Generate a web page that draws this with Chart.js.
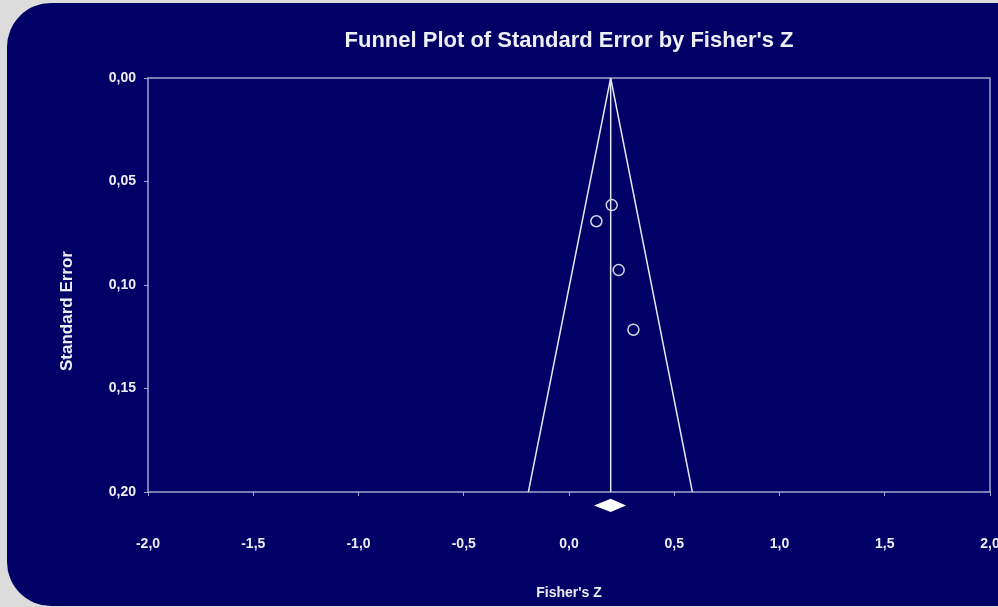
<!DOCTYPE html>
<html>
<head>
<meta charset="utf-8">
<script src="https://cdn.jsdelivr.net/npm/chart.js@4/dist/chart.umd.min.js"></script>
<style>
  body { margin: 0; background: #dcdcdc; }
  #wrap { position: relative; width: 998px; height: 607px; overflow: hidden; }
  #panel { position: absolute; left: 7px; top: 3px; width: 1100px; height: 603px; background: #000066; border-radius: 44px; }
  #funnel { position: absolute; left: 0; top: 0; }
</style>
</head>
<body>
<div id="wrap">
  <div id="panel"></div>
  <canvas id="funnel" width="998" height="607"></canvas>
</div>
<script>
// studies
const studyZ = [0.203, 0.130, 0.236, 0.306];
const studySE = [0.0614, 0.0692, 0.0928, 0.1216];

// pooled estimate and funnel limits at the bottom of the plot
const pooledZ = 0.198;
const seMax = 0.20;
const funnelBaseZ = [-0.193, 0.586];

// summary diamond below the axis
const diamondZ = [0.119, 0.198, 0.271, 0.198];
const diamondSE = [0.2065, 0.2033, 0.2065, 0.2097];

const xTickValues = [-2, -1.5, -1, -0.5, 0, 0.5, 1, 1.5, 2];
const xTickLabels = ["-2,0", "-1,5", "-1,0", "-0,5", "0,0", "0,5", "1,0", "1,5", "2,0"];
const yTickValues = [0, 0.05, 0.10, 0.15, 0.20];
const yTickLabels = ["0,00", "0,05", "0,10", "0,15", "0,20"];

const chartTitle = "Funnel Plot of Standard Error by Fisher's Z";
const yTitle = "Standard Error";

const textColor = "#eeeef6";
const lineColor = "#e6e6f2";
const frameColor = "rgba(190,190,225,0.85)";
const fontFamily = "'Liberation Sans', Arial, sans-serif";

function labelFor(values, labels, v) {
  const i = values.findIndex(t => Math.abs(t - v) < 1e-6);
  return i >= 0 ? labels[i] : "";
}

// frame round the plot area, titles, and the summary diamond
const funnelExtras = {
  id: "funnelExtras",
  beforeDatasetsDraw(chart) {
    const { ctx, chartArea } = chart;
    ctx.save();
    ctx.strokeStyle = frameColor;
    ctx.lineWidth = 1.5;
    ctx.strokeRect(chartArea.left, chartArea.top, chartArea.right - chartArea.left, chartArea.bottom - chartArea.top);
    ctx.restore();
  },
  afterDraw(chart) {
    const { ctx, chartArea } = chart;
    const xs = chart.scales.x;
    const ys = chart.scales.y;
    ctx.save();
    ctx.fillStyle = "#ffffff";
    ctx.beginPath();
    diamondZ.forEach((z, i) => {
      const px = xs.getPixelForValue(z);
      const py = ys.getPixelForValue(diamondSE[i]);
      if (i === 0) ctx.moveTo(px, py); else ctx.lineTo(px, py);
    });
    ctx.closePath();
    ctx.fill();

    ctx.fillStyle = textColor;
    ctx.textAlign = "center";
    ctx.textBaseline = "middle";
    ctx.font = "bold 22px " + fontFamily;
    ctx.fillText(chartTitle, (chartArea.left + chartArea.right) / 2, 41);

    ctx.translate(67, 311);
    ctx.rotate(-Math.PI / 2);
    ctx.font = "bold 17px " + fontFamily;
    ctx.fillText(yTitle, 0, 0);
    ctx.restore();
  }
};

const ctx = document.getElementById("funnel").getContext("2d");

new Chart(ctx, {
  type: "scatter",
  data: {
    datasets: [
      {
        label: "Studies",
        data: studyZ.map((z, i) => ({ x: z, y: studySE[i] })),
        pointStyle: "circle",
        pointRadius: 5.5,
        borderWidth: 1.5,
        borderColor: "#d6d6e6",
        backgroundColor: "rgba(0,0,0,0)",
        order: 1
      },
      {
        label: "Funnel",
        type: "line",
        data: [
          { x: funnelBaseZ[0], y: seMax },
          { x: pooledZ, y: 0 },
          { x: funnelBaseZ[1], y: seMax }
        ],
        showLine: true,
        pointRadius: 0,
        borderColor: lineColor,
        borderWidth: 1.5,
        fill: false,
        order: 2
      },
      {
        label: "Pooled",
        type: "line",
        data: [
          { x: pooledZ, y: 0 },
          { x: pooledZ, y: seMax }
        ],
        showLine: true,
        pointRadius: 0,
        borderColor: lineColor,
        borderWidth: 1.5,
        fill: false,
        order: 2
      }
    ]
  },
  options: {
    responsive: false,
    animation: false,
    devicePixelRatio: 1,
    layout: { padding: { left: 0, right: 8, top: 78, bottom: 0 } },
    plugins: {
      legend: { display: false },
      tooltip: { enabled: false },
      title: { display: false }
    },
    scales: {
      x: {
        type: "linear",
        min: -2,
        max: 2,
        afterFit(scale) {
          scale.height = 115;
          scale.paddingLeft = 0;
          scale.paddingRight = 0;
        },
        ticks: {
          stepSize: 0.5,
          color: textColor,
          padding: 40,
          maxRotation: 0,
          font: { family: fontFamily, size: 14, weight: "bold" },
          callback: value => labelFor(xTickValues, xTickLabels, value)
        },
        grid: { display: true, drawOnChartArea: false, drawTicks: true, tickLength: 4, color: frameColor },
        border: { display: false },
        title: {
          display: true,
          text: "Fisher's Z",
          color: textColor,
          font: { family: fontFamily, size: 14, weight: "bold", lineHeight: 1.2 },
          padding: { top: 0, bottom: 5.6 }
        }
      },
      y: {
        type: "linear",
        min: 0,
        max: seMax,
        reverse: true,
        afterFit(scale) { scale.width = 148; },
        ticks: {
          stepSize: 0.05,
          color: textColor,
          padding: 8,
          font: { family: fontFamily, size: 14, weight: "bold" },
          callback: value => labelFor(yTickValues, yTickLabels, value)
        },
        grid: { display: true, drawOnChartArea: false, drawTicks: true, tickLength: 4, color: frameColor },
        border: { display: false }
      }
    }
  },
  plugins: [funnelExtras]
});
</script>
</body>
</html>
